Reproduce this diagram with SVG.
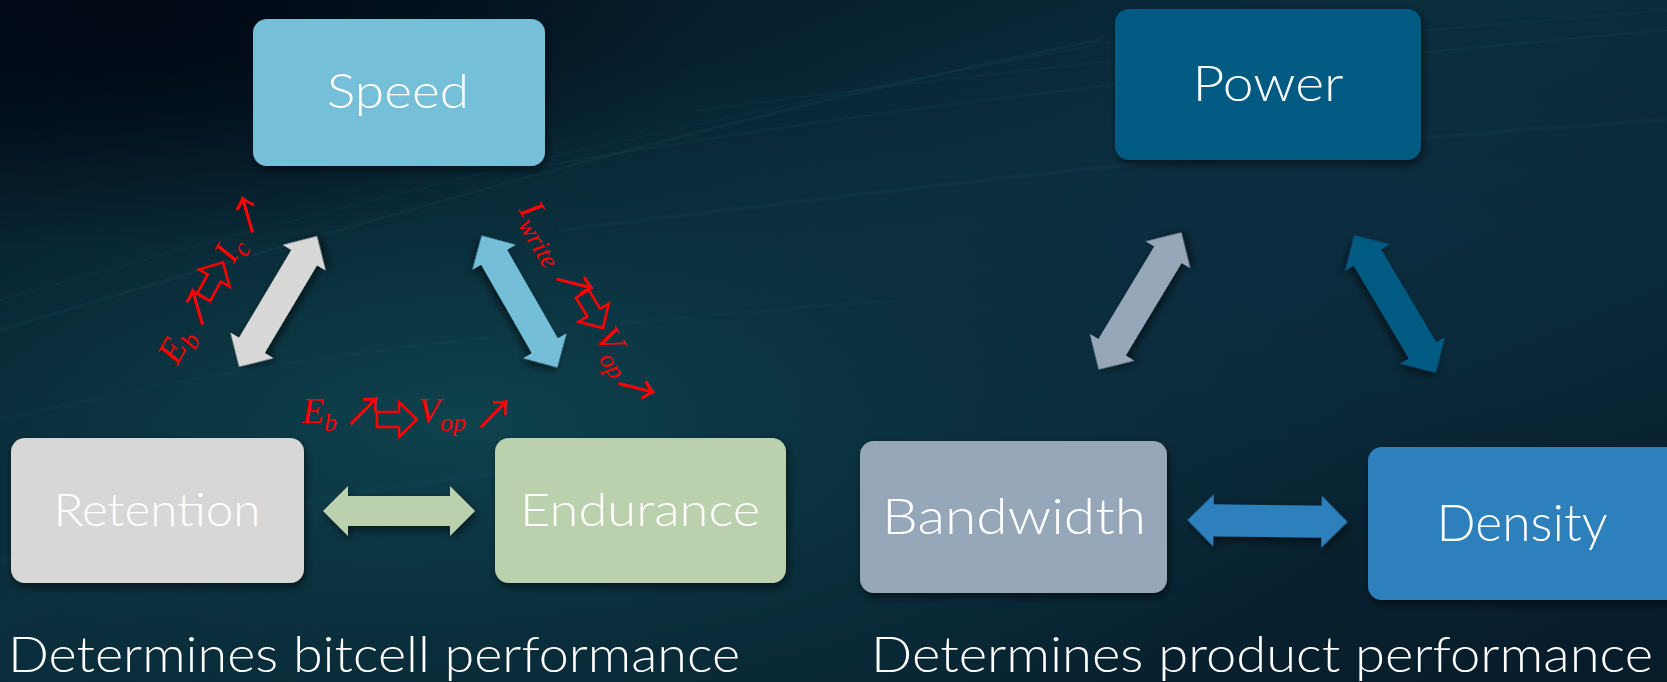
<svg xmlns="http://www.w3.org/2000/svg" width="1667" height="682" viewBox="0 0 1667 682">
  <defs>
    <!-- backdrop: deep navy with a teal glow on the left -->
    <linearGradient id="bgBase" x1="0" y1="0" x2="1" y2="1">
      <stop offset="0" stop-color="#03111f"/>
      <stop offset="0.45" stop-color="#0a2d3b"/>
      <stop offset="1" stop-color="#071b29"/>
    </linearGradient>
    <radialGradient id="glowLeft" cx="0.28" cy="0.62" r="0.55">
      <stop offset="0" stop-color="#0f4550" stop-opacity="0.9"/>
      <stop offset="0.6" stop-color="#0b3340" stop-opacity="0.5"/>
      <stop offset="1" stop-color="#0b3340" stop-opacity="0"/>
    </radialGradient>
    <radialGradient id="glowRight" cx="0.78" cy="0.35" r="0.45">
      <stop offset="0" stop-color="#0c2e42" stop-opacity="0.8"/>
      <stop offset="1" stop-color="#0c2e42" stop-opacity="0"/>
    </radialGradient>
    <radialGradient id="darkCorner" cx="0.08" cy="0.02" r="0.35">
      <stop offset="0" stop-color="#010814" stop-opacity="0.95"/>
      <stop offset="1" stop-color="#010814" stop-opacity="0"/>
    </radialGradient>
    <filter id="shadow" x="-20%" y="-20%" width="140%" height="150%">
      <feDropShadow dx="2" dy="4" stdDeviation="4" flood-color="#000" flood-opacity="0.55"/>
    </filter>
    <!-- double-headed block arrows, centred on the origin -->
    <path id="dbl152" d="M-76,0 L-51,-25 L-51,-15 L51,-15 L51,-25 L76,0 L51,25 L51,15 L-51,15 L-51,25 Z"/>
    <path id="dbl160" d="M-80,0 L-54,-26 L-54,-16 L54,-16 L54,-26 L80,0 L54,26 L54,16 L-54,16 L-54,26 Z"/>
    <!-- hollow "implies" arrow used inside the formulas -->
    <path id="implies" d="M0,-7.5 L22,-7.5 L22,-17.5 L40,0 L22,17.5 L22,7.5 L0,7.5 Z"/>
  </defs>
  <style>
    .box { filter: url(#shadow); }
    .lbl { fill: #ffffff; font-family: Lato, "Open Sans", sans-serif; font-weight: 300; text-anchor: middle; }
    .cap { fill: #ffffff; font-family: Lato, "Open Sans", sans-serif; font-weight: 300; font-size: 50px; }
    .m { fill: #ff0000; font-family: "Liberation Serif", serif; font-style: italic; font-size: 36px; }
    .sub { font-size: 26px; }
    .ar { fill: #ff0000; font-family: "Noto Sans CJK JP", "DejaVu Sans", sans-serif; font-size: 41px; }
    .imp { fill: none; stroke: #ff0000; stroke-width: 2.6; stroke-linejoin: miter; }
    .streak { fill: none; stroke: #4fa3b0; stroke-linecap: round; }
  </style>

  <!-- background -->
  <rect width="1667" height="682" fill="url(#bgBase)"/>
  <rect width="1667" height="682" fill="url(#glowLeft)"/>
  <rect width="1667" height="682" fill="url(#glowRight)"/>
  <rect width="1667" height="682" fill="url(#darkCorner)"/>
  <g id="streaks">
    <path class="streak" stroke-opacity="0.06" stroke-width="3" d="M0,330 C300,240 700,120 1100,40"/>
    <path class="streak" stroke-opacity="0.05" stroke-width="2" d="M0,300 C350,200 800,90 1250,20"/>
    <path class="streak" stroke-opacity="0.06" stroke-width="2" d="M520,170 C800,120 1100,80 1667,30"/>
    <path class="streak" stroke-opacity="0.05" stroke-width="4" d="M560,230 C900,190 1200,150 1667,120"/>
    <path class="streak" stroke-opacity="0.04" stroke-width="3" d="M0,420 C250,360 500,330 900,300"/>
    <path class="streak" stroke-opacity="0.05" stroke-width="2" d="M700,110 C1000,70 1300,40 1667,10"/>
    <path class="streak" stroke-opacity="0.04" stroke-width="6" d="M0,560 C200,520 450,470 700,450"/>
  </g>

  <!-- connectors -->
  <g id="connectors">
    <use href="#dbl152" transform="translate(278,301.5) rotate(-59.2)" fill="#d8d8d8" class="box"/>
    <use href="#dbl152" transform="translate(519.5,301.5) rotate(60.2)" fill="#75bed8" class="box"/>
    <use href="#dbl152" transform="translate(399,511)" fill="#bbd0ac" class="box"/>
    <use href="#dbl160" transform="translate(1140,301) rotate(-58.9)" fill="#96a7b9" class="box"/>
    <use href="#dbl160" transform="translate(1395,304) rotate(59.3)" fill="#015a82" class="box"/>
    <use href="#dbl160" transform="translate(1267.5,521) rotate(0.7)" fill="#2f80bc" class="box"/>
  </g>

  <!-- bitcell triangle -->
  <g id="speed">
    <rect class="box" x="253" y="19" width="292" height="147" rx="14" fill="#75bfd8"/>
    <text class="lbl" x="398" y="108" font-size="47" textLength="142" lengthAdjust="spacingAndGlyphs">Speed</text>
  </g>
  <g id="retention">
    <rect class="box" x="11" y="438" width="293" height="145" rx="14" fill="#d7d7d7"/>
    <text class="lbl" x="157" y="526" font-size="45" textLength="207" lengthAdjust="spacingAndGlyphs">Retention</text>
  </g>
  <g id="endurance">
    <rect class="box" x="495" y="438" width="291" height="145" rx="14" fill="#bbd0ac"/>
    <text class="lbl" x="640" y="526" font-size="45" textLength="240" lengthAdjust="spacingAndGlyphs">Endurance</text>
  </g>

  <!-- product triangle -->
  <g id="power">
    <rect class="box" x="1115" y="9" width="306" height="151" rx="14" fill="#015a81"/>
    <text class="lbl" x="1268" y="101" font-size="50" textLength="151" lengthAdjust="spacingAndGlyphs">Power</text>
  </g>
  <g id="bandwidth">
    <rect class="box" x="860" y="441" width="307" height="152" rx="14" fill="#96a7b9"/>
    <text class="lbl" x="1014" y="534" font-size="50" textLength="264" lengthAdjust="spacingAndGlyphs">Bandwidth</text>
  </g>
  <g id="density">
    <rect class="box" x="1368" y="447" width="314" height="153" rx="14" fill="#2f80bc"/>
    <text class="lbl" x="1522" y="541" font-size="52" textLength="171" lengthAdjust="spacingAndGlyphs">Density</text>
  </g>

  <!-- trade-off formulas -->
  <g id="formula-speed-retention" transform="translate(177,366) rotate(-61)">
    <text class="m" x="0" y="0">E<tspan class="sub" dy="8">b</tspan></text>
    <text class="ar" x="41" y="4">↗</text>
    <use href="#implies" class="imp" transform="translate(73,-10)"/>
    <text class="m" x="116" y="0">I<tspan class="sub" dy="8">c</tspan></text>
    <text class="ar" x="146" y="3">↗</text>
  </g>
  <g id="formula-speed-endurance" transform="translate(518,210) rotate(59)">
    <text class="m" x="0" y="0">I<tspan class="sub" dy="8">write</tspan></text>
    <text class="ar" x="72" y="5">↗</text>
    <use href="#implies" class="imp" transform="translate(105,-12)"/>
    <text class="m" x="147" y="0">V<tspan class="sub" dy="8">op</tspan></text>
    <text class="ar" x="193" y="6">↗</text>
  </g>
  <g id="formula-retention-endurance">
    <text class="m" x="302" y="423">E<tspan class="sub" dy="8">b</tspan></text>
    <text class="ar" x="343" y="425.5">↗</text>
    <use href="#implies" class="imp" transform="translate(377,419.5)"/>
    <text class="m" x="418" y="423">V<tspan class="sub" dy="8">op</tspan></text>
    <text class="ar" x="473" y="429">↗</text>
  </g>

  <!-- captions -->
  <text class="cap" x="8" y="672" textLength="732" lengthAdjust="spacingAndGlyphs">Determines bitcell performance</text>
  <text class="cap" x="871" y="672" textLength="782" lengthAdjust="spacingAndGlyphs">Determines product performance</text>
</svg>
